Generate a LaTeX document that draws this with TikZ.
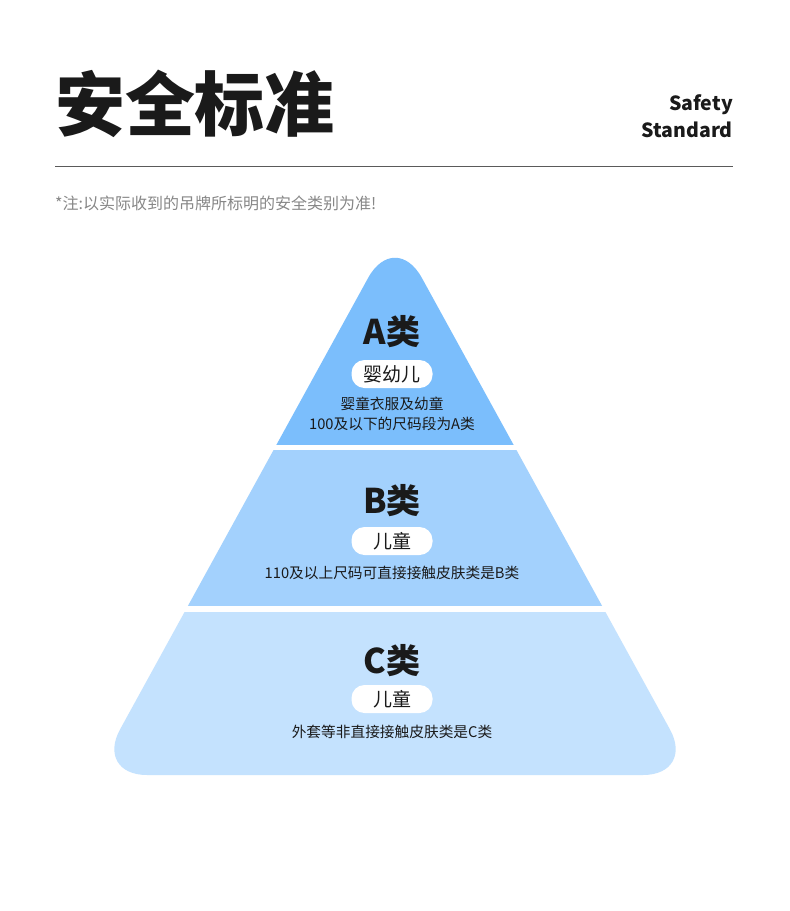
\documentclass[tikz,border=0pt]{standalone}
\usepackage{fontspec}
\setmainfont{Noto Sans CJK SC}
\usetikzlibrary{positioning}
\definecolor{tierA}{RGB}{123,190,252}
\definecolor{tierB}{RGB}{163,209,253}
\definecolor{tierC}{RGB}{196,226,254}
\definecolor{ink}{RGB}{26,26,26}
\definecolor{notegray}{RGB}{135,135,135}
\definecolor{rulegray}{RGB}{90,90,90}
\tikzset{
    safety sheet/.style = {x=1pt, y=-1pt},
    headline/.style     = {font=\fontsize{70}{70}\selectfont\bfseries,
                           text=ink, inner sep=0pt},
    subhead/.style      = {font=\fontsize{19.5}{28}\selectfont\bfseries,
                           text=ink, inner sep=0pt, anchor=base east},
    rule/.style         = {draw=rulegray, line width=1pt},
    note/.style         = {font=\fontsize{16}{18}\selectfont,
                           text=notegray, inner sep=0pt, anchor=base west},
    tier name/.style    = {font=\fontsize{34}{34}\selectfont\bfseries,
                           text=ink, inner sep=0pt},
    pill/.style         = {fill=white, rounded corners=13pt, inner sep=0pt,
                           minimum width=81pt, minimum height=28pt,
                           font=\fontsize{19}{19}\selectfont, text=ink},
    tier text/.style    = {font=\fontsize{14.7}{20}\selectfont,
                           text=ink, inner sep=0pt, align=center}
}

\begin{document}
\begin{tikzpicture}[safety sheet]

% Page frame.
\path[use as bounding box, fill=white] (0,0) rectangle (790,911);

% Heading, English subtitle and rule.
\node[headline] (title) at (195,104) {安全标准};
\node[subhead] (safety) at (733,110) {Safety};
\node[subhead] (standard) at (733,137) {Standard};
\coordinate (rule left) at (55,166);
\coordinate (rule right) at (733,166);
\draw[rule] (rule left) -- (rule right);
\node[note] (remark) at (55,209) {*注:以实际收到的吊牌所标明的安全类别为准!};

% Pyramid, one clipped band per tier.
\foreach \lo/\hi/\col in {200/444/tierA, 450/605/tierB, 612/800/tierC} {
    \begin{scope}
        \clip (0,\lo) rectangle (790,\hi);
        \fill[\col] (395,775) [rounded corners=52pt] -- (95,775)
            [rounded corners=56pt] -- (395,229)
            [rounded corners=52pt] -- (695,775) -- cycle;
    \end{scope}
}

% Tier A.
\node[tier name] (A) at (392,332) {A类};
\node[pill] (A age) at (392,374) {婴幼儿};
\node[tier text, below=9pt of A age] (A info) {婴童衣服及幼童\\100及以下的尺码段为A类};

% Tier B.
\node[tier name] (B) at (392,501) {B类};
\node[pill] (B age) at (392,541) {儿童};
\node[tier text] (B info) at (392,573) {110及以上尺码可直接接触皮肤类是B类};

% Tier C.
\node[tier name] (C) at (392,661) {C类};
\node[pill] (C age) at (392,699) {儿童};
\node[tier text] (C info) at (392,732) {外套等非直接接触皮肤类是C类};

\end{tikzpicture}
\end{document}
